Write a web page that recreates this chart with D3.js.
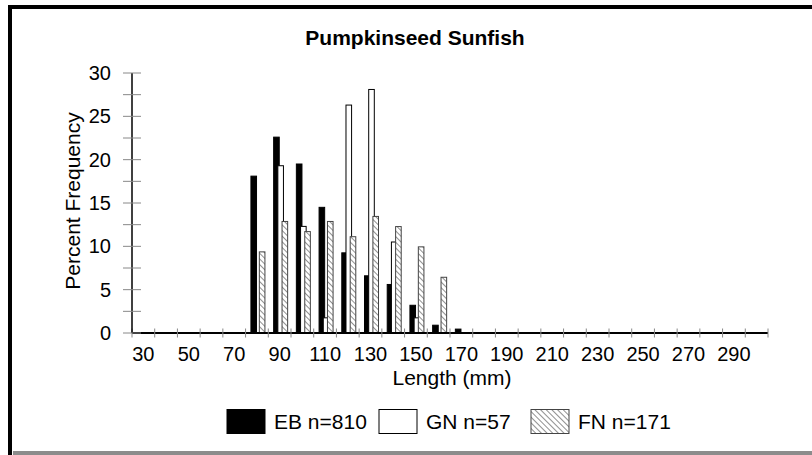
<!DOCTYPE html>
<html><head><meta charset="utf-8">
<script src="https://cdn.jsdelivr.net/npm/d3@7/dist/d3.min.js"></script>
<style>body{margin:0;background:#fff}svg{display:block;font-family:"Liberation Sans",Arial,sans-serif}</style>
</head><body><svg id="c" width="812" height="455"></svg>
<script>
const categories = d3.range(30, 301, 10);
const tickLabels = [30,50,70,90,110,130,150,170,190,210,230,250,270,290];
const yTicks = [0,5,10,15,20,25,30];
const series = ["EB n=810","GN n=57","FN n=171"];
const ebValues = {80:18.1,90:22.6,100:19.5,110:14.5,120:9.25,130:6.6,140:5.6,150:3.2,160:0.9,170:0.45};
const gnValues = {90:19.3,100:12.3,110:1.75,120:26.3,130:28.1,140:10.5,150:1.75};
const fnValues = {80:9.36,90:12.87,100:11.7,110:12.87,120:11.11,130:13.45,140:12.28,150:9.94,160:6.43};
const seriesValues = [ebValues, gnValues, fnValues];

const svg = d3.select("#c");
const defs = svg.append("defs");
const pat = defs.append("pattern").attr("id","hatch").attr("patternUnits","userSpaceOnUse")
  .attr("width",4).attr("height",4).attr("patternTransform","rotate(-45)");
pat.append("rect").attr("width",4).attr("height",4).attr("fill","#fff");
pat.append("line").attr("x1",0).attr("y1",0).attr("x2",0).attr("y2",4).attr("stroke","#222").attr("stroke-width",1);

// frame
svg.append("rect").attr("x",8).attr("y",5).attr("width",4).attr("height",450).attr("fill","#000");
svg.append("rect").attr("x",8).attr("y",5).attr("width",804).attr("height",4).attr("fill","#000");
svg.append("rect").attr("x",13).attr("y",451).attr("width",799).attr("height",4).attr("fill","#8c8c8c");

const x = d3.scaleBand().domain(categories).range([132, 768]).padding(0);
const y = d3.scaleLinear().domain([0, 30]).range([333, 73]);
const off = d3.scalePoint().domain(series).range([-6, 2.4]);
const bw = 5.6;
const fills = ["#000", "#fff", "url(#hatch)"];
const strokes = ["#000", "#000", "#444"];

svg.append("text").attr("x",415).attr("y",45).attr("text-anchor","middle")
  .attr("font-weight","bold").attr("font-size",21).text("Pumpkinseed Sunfish");

// x axis base
const xa = svg.append("g");
xa.append("line").attr("x1",132).attr("x2",768).attr("y1",333).attr("y2",333).attr("stroke","#000").attr("stroke-width",2);

// bars
series.forEach((s, i) => {
  svg.append("g").selectAll("rect").data(categories).join("rect")
    .attr("x", d => x(d) + x.bandwidth()/2 + off(s))
    .attr("y", d => y(seriesValues[i][d] || 0))
    .attr("width", bw)
    .attr("height", d => y(0) - y(seriesValues[i][d] || 0))
    .attr("fill", fills[i]).attr("stroke", strokes[i]).attr("stroke-width", 1);
});

const bounds = categories.map(c => x(c)).concat([x(300) + x.bandwidth()]);
xa.raise();
xa.selectAll("line.t").data(bounds).join("line").attr("class","t")
  .attr("x1", d => d).attr("x2", d => d).attr("y1", 328.5).attr("y2", 337.5)
  .attr("stroke","#888").attr("stroke-width",1);
xa.selectAll("text").data(tickLabels).join("text")
  .attr("x", d => x(d) + x.bandwidth()/2).attr("y", 361).attr("text-anchor","middle")
  .attr("font-size",20).text(d => d);
svg.append("text").attr("x",452).attr("y",385).attr("text-anchor","middle").attr("font-size",21).text("Length (mm)");

// y axis
const ya = svg.append("g");
ya.append("line").attr("x1",132).attr("x2",132).attr("y1",73).attr("y2",333).attr("stroke","#000").attr("stroke-width",1.5);
ya.selectAll("line.t").data(d3.range(0, 30.1, 2.5)).join("line").attr("class","t")
  .attr("x1",123).attr("x2",141).attr("y1", d => y(d)).attr("y2", d => y(d))
  .attr("stroke","#888").attr("stroke-width",1);
ya.selectAll("text").data(yTicks).join("text")
  .attr("x",111).attr("y", d => y(d)).attr("dy","0.35em").attr("text-anchor","end")
  .attr("font-size",20).text(d => d);
svg.append("text").attr("transform","translate(80,201) rotate(-90)").attr("text-anchor","middle")
  .attr("font-size",21).text("Percent Frequency");

// legend
const lg = svg.append("g");
const lx = [227, 379, 531];
series.forEach((s, i) => {
  lg.append("rect").attr("x", lx[i]).attr("y", 409.5).attr("width", 38).attr("height", 24)
    .attr("fill", fills[i]).attr("stroke", strokes[i]).attr("stroke-width", 1);
  lg.append("text").attr("x", lx[i] + 47).attr("y", 428.5).attr("font-size",21).text(s);
});
</script></body></html>
